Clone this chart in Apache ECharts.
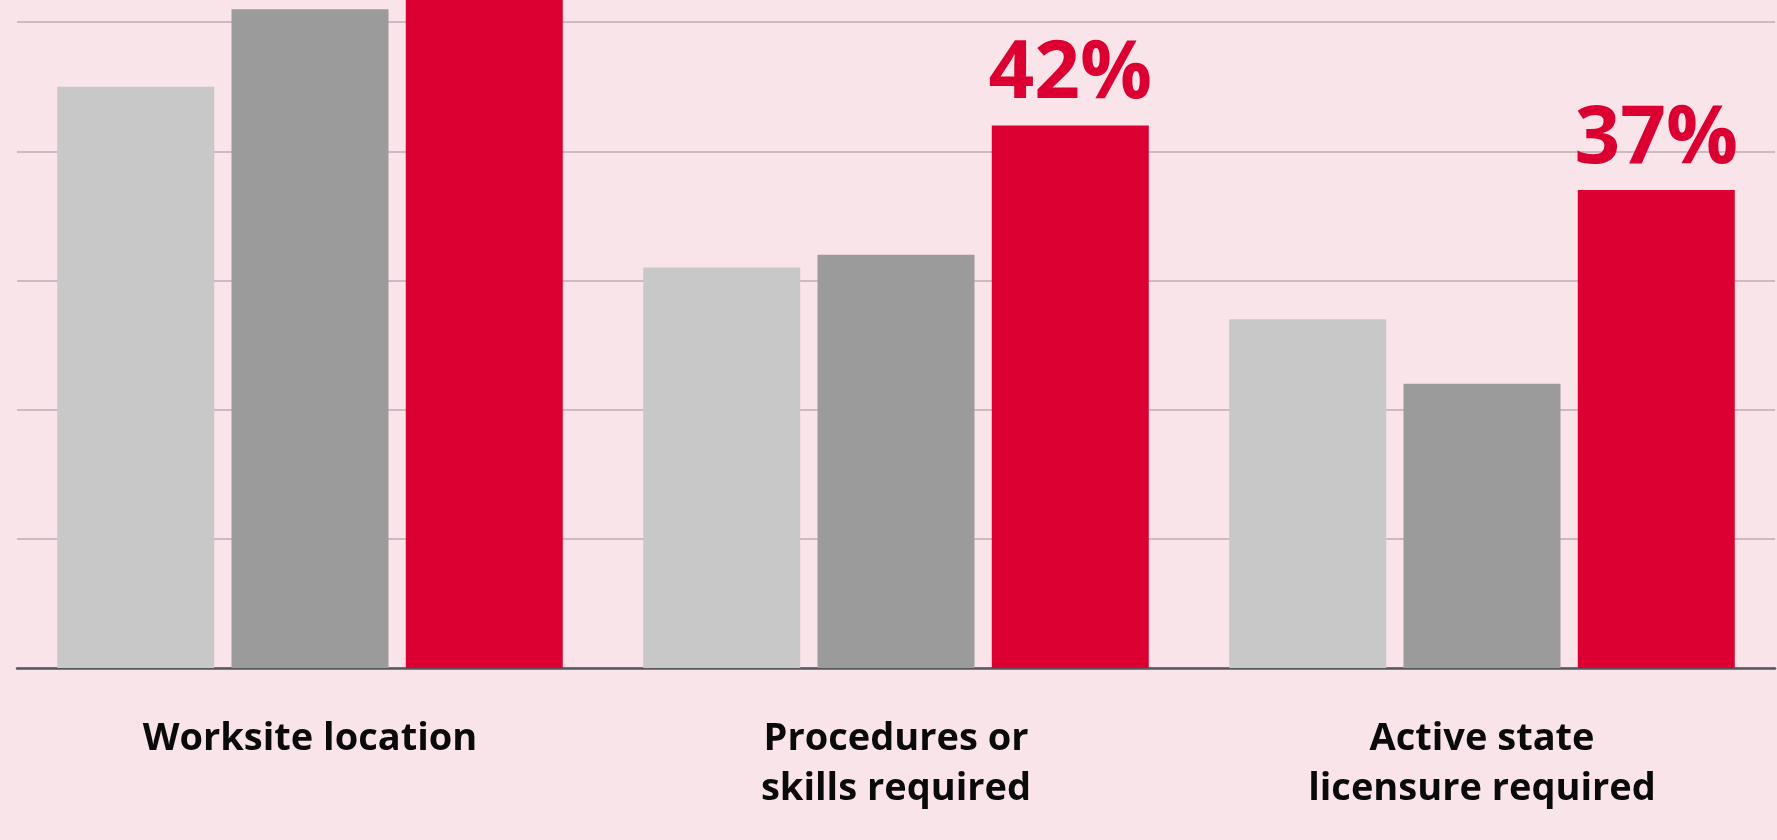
<!DOCTYPE html>
<html>
<head>
<meta charset="utf-8">
<style>
  html, body { margin: 0; padding: 0; background: #f9e4ea; }
  #chart { width: 1777px; height: 840px; }
</style>
<script src="https://cdn.jsdelivr.net/npm/echarts@6/dist/echarts.min.js"></script>
</head>
<body>
<div id="chart"></div>
<script>
// Share of respondents by factor, three comparison groups
const categories = ['Worksite location', 'Procedures or\nskills required', 'Active state\nlicensure required'];
const seriesLight = [45, 31, 27];
const seriesDark = [51, 32, 22];
const seriesRed = [56, 42, 37];
// Only these red bars carry a printed value
const labelledRed = [false, true, true];

const chart = echarts.init(document.getElementById('chart'), null, { renderer: 'canvas' });

const font = '"Open Sans", Lato, sans-serif';

chart.setOption({
  backgroundColor: '#f9e4ea',
  animation: false,
  grid: { left: 17, right: 2, top: -107, bottom: 172, containLabel: false, outerBoundsMode: 'none' },
  xAxis: {
    type: 'category',
    data: categories,
    axisLine: { show: true, lineStyle: { color: '#55585d', width: 2.5 } },
    axisTick: { show: false },
    axisLabel: {
      color: '#0a0a0a',
      fontFamily: font,
      fontWeight: 'bold',
      fontSize: 38,
      lineHeight: 50,
      margin: 46
    }
  },
  yAxis: {
    type: 'value',
    min: 0,
    max: 60,
    interval: 10,
    axisLine: { show: false },
    axisTick: { show: false },
    axisLabel: { show: false },
    splitLine: { show: true, lineStyle: { color: '#cdbac1', width: 2 } }
  },
  series: [
    {
      type: 'bar',
      data: seriesLight,
      barWidth: 157,
      barGap: '11%',
      itemStyle: { color: '#c8c8c8' }
    },
    {
      type: 'bar',
      data: seriesDark,
      barWidth: 157,
      barGap: '11%',
      itemStyle: { color: '#9b9b9b' }
    },
    {
      type: 'bar',
      data: seriesRed.map((v, i) => ({
        value: v,
        label: {
          show: labelledRed[i],
          position: 'top',
          distance: 10,
          formatter: '{c}%',
          color: '#dc0032',
          fontFamily: font,
          fontWeight: 'bold',
          fontSize: 80
        }
      })),
      barWidth: 157,
      barGap: '11%',
      itemStyle: { color: '#dc0032' }
    }
  ]
});
</script>
</body>
</html>
